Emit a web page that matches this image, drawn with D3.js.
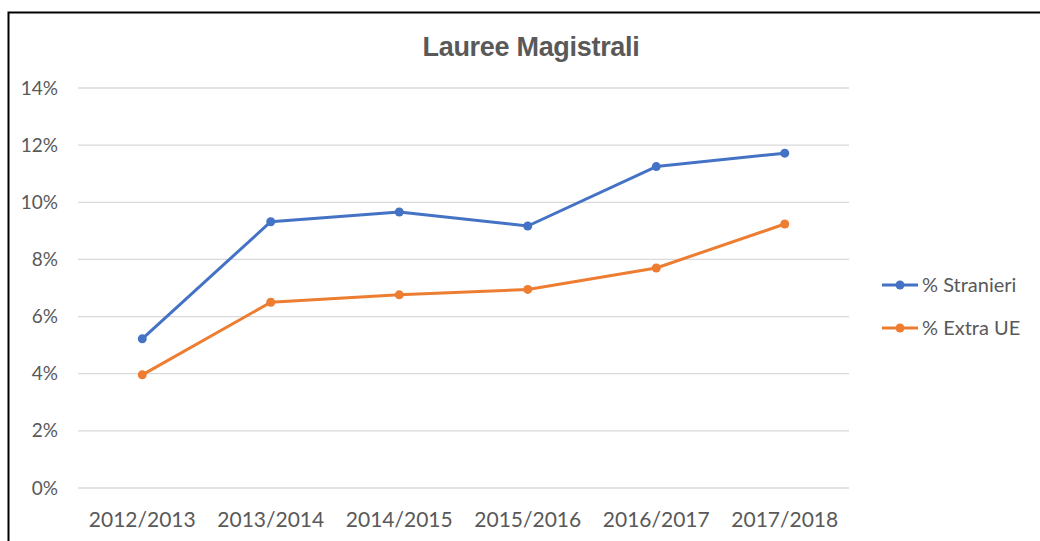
<!DOCTYPE html>
<html>
<head>
<meta charset="utf-8">
<script src="https://cdn.jsdelivr.net/npm/d3@7"></script>
<style>
  body { margin: 0; background: #fff; }
  svg { display: block; }
</style>
</head>
<body>
<svg id="chart" width="1040" height="541"></svg>
<script>
// Data
const years = ["2012/2013", "2013/2014", "2014/2015", "2015/2016", "2016/2017", "2017/2018"]
const stranieri = [5.22, 9.32, 9.66, 9.17, 11.25, 11.72]
const extraUE = [3.96, 6.5, 6.76, 6.95, 7.7, 9.24]
const yTicks = [0, 2, 4, 6, 8, 10, 12, 14]
const seriesNames = ["% Stranieri", "% Extra UE"]

const colors = ["#4472C4", "#ED7D31"]
const textColor = "#595959"
const labelFont = "Lato, 'Open Sans', sans-serif"

const svg = d3.select("#chart")

// frame (only top and left edges show in the picture)
svg.append("path")
  .attr("d", "M8.5,541 L8.5,12.5 L1040,12.5")
  .attr("fill", "none")
  .attr("stroke", "#000")
  .attr("stroke-width", 2)

const margin = { left: 78, right: 849, top: 88, bottom: 488 }

const x = d3.scaleBand()
  .domain(years)
  .range([margin.left, margin.right])

const y = d3.scaleLinear()
  .domain([0, 14])
  .range([margin.bottom, margin.top])

// title
svg.append("text")
  .attr("x", 531)
  .attr("y", 56)
  .attr("text-anchor", "middle")
  .attr("fill", textColor)
  .attr("font-family", "'Liberation Sans', Arial, sans-serif")
  .attr("font-weight", "bold")
  .attr("font-size", "27px")
  .attr("letter-spacing", "-0.3px")
  .text("Lauree Magistrali")

// gridlines
svg.append("g")
  .selectAll("line")
  .data(yTicks)
  .join("line")
  .attr("x1", margin.left)
  .attr("x2", margin.right)
  .attr("y1", d => y(d))
  .attr("y2", d => y(d))
  .attr("stroke", "#d9d9d9")
  .attr("stroke-width", 1.3)

// y axis
const yAxis = svg.append("g")
  .attr("transform", `translate(${margin.left - 20},0)`)
  .call(d3.axisLeft(y).tickValues(yTicks).tickFormat(d => d + "%").tickSize(0).tickPadding(0))
yAxis.select(".domain").remove()
yAxis.selectAll("text")
  .attr("fill", textColor)
  .attr("font-family", labelFont)
  .attr("font-size", "19px")

// x axis
const xAxis = svg.append("g")
  .attr("transform", `translate(0,${margin.bottom})`)
  .call(d3.axisBottom(x).tickSize(0).tickPadding(24))
xAxis.select(".domain").remove()
xAxis.selectAll("text")
  .attr("fill", textColor)
  .attr("font-family", labelFont)
  .attr("font-size", "21px")

// lines + markers
const series = [stranieri, extraUE]
const line = d3.line()
  .x((d, i) => x(years[i]) + x.bandwidth() / 2)
  .y(d => y(d))

series.forEach((vals, s) => {
  svg.append("path")
    .datum(vals)
    .attr("d", line)
    .attr("fill", "none")
    .attr("stroke", colors[s])
    .attr("stroke-width", 3)
    .attr("stroke-linejoin", "round")
    .attr("stroke-linecap", "round")

  svg.append("g")
    .selectAll("circle")
    .data(vals)
    .join("circle")
    .attr("cx", (d, i) => x(years[i]) + x.bandwidth() / 2)
    .attr("cy", d => y(d))
    .attr("r", 4.5)
    .attr("fill", colors[s])
})

// legend
const legend = svg.append("g")
  .selectAll("g")
  .data(seriesNames)
  .join("g")
  .attr("transform", (d, i) => `translate(882,${285 + i * 43})`)

legend.append("line")
  .attr("x1", 0)
  .attr("x2", 36)
  .attr("stroke", (d, i) => colors[i])
  .attr("stroke-width", 3)
legend.append("circle")
  .attr("cx", 18)
  .attr("r", 4.5)
  .attr("fill", (d, i) => colors[i])
legend.append("text")
  .attr("x", 40)
  .attr("dy", "0.35em")
  .attr("fill", textColor)
  .attr("font-family", labelFont)
  .attr("font-size", "20px")
  .text(d => d)
</script>
</body>
</html>
